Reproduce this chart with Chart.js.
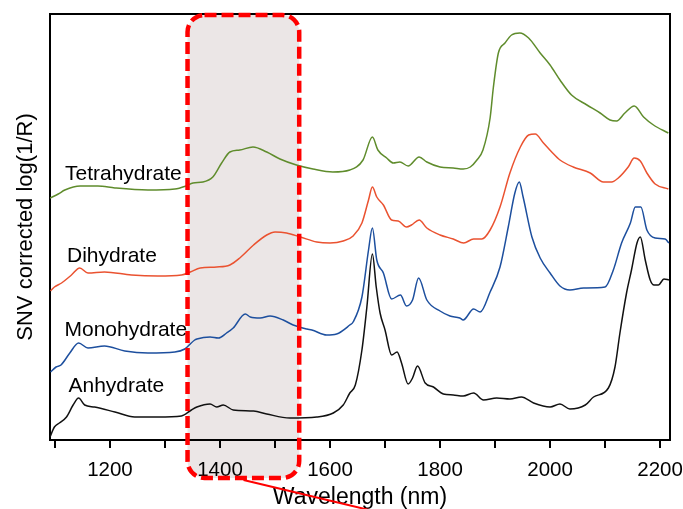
<!DOCTYPE html>
<html>
<head>
<meta charset="utf-8">
<script src="https://cdn.jsdelivr.net/npm/chart.js@4/dist/chart.umd.min.js"></script>
<style>
  html, body { margin: 0; padding: 0; background: #ffffff; }
  #wrap { width: 683px; height: 509px; }
</style>
</head>
<body>
<div id="wrap"><canvas id="c" width="683" height="509"></canvas></div>
<script>
// NIR spectra of four hydration states (SNV corrected, stacked with offsets)
const tetraNm = [1091,1106,1118,1146,1178,1209,1269,1318,1338,1351,1369,1387,1403,1418,1436,1460,1485,1509,1539,1569,1605,1636,1660,1677,1687,1703,1715,1727,1742,1762,1776,1800,1824,1842,1855,1867,1878,1891,1897,1906,1918,1930,1945,1961,1982,2000,2018,2039,2067,2091,2109,2121,2136,2153,2170,2188,2215];
const tetraVal = [242,246,250,254,254,252,250,251,254,257,258,263,277,288,290,293,288,281,275,271,268,270,280,303,290,282,277,278,274,283,278,273,272,271,273,280,290,322,353,387,397,405,407,402,387,375,360,345,335,327,320,319,327,334,323,315,307];

const diNm = [1092,1099,1112,1130,1145,1160,1190,1239,1287,1330,1346,1364,1394,1418,1436,1461,1485,1500,1521,1546,1576,1600,1624,1642,1658,1670,1677,1685,1697,1712,1724,1739,1748,1762,1776,1800,1824,1843,1861,1876,1891,1909,1927,1946,1961,1973,1988,2003,2018,2042,2073,2097,2112,2124,2142,2153,2164,2176,2191,2215];
const diVal = [149,153,157,165,172,167,168,165,164,165,168,172,173,175,182,195,205,208,207,203,198,197,199,204,217,240,253,243,235,220,219,213,215,220,212,205,201,197,201,201,210,233,267,293,305,306,297,288,280,273,267,258,258,262,273,282,279,267,256,251];

const monoNm = [1092,1102,1111,1127,1143,1160,1190,1227,1269,1318,1336,1354,1358,1382,1397,1412,1424,1446,1455,1473,1491,1515,1533,1558,1567,1594,1612,1636,1642,1658,1670,1677,1685,1697,1712,1728,1739,1750,1761,1776,1800,1818,1836,1842,1861,1873,1891,1909,1924,1936,1944,1951,1967,1982,2000,2018,2036,2061,2100,2115,2130,2146,2155,2165,2176,2191,2209,2216];
const monoVal = [68,73,75,87,97,92,94,89,87,88,91,100,101,103,102,107,112,126,123,122,124,120,115,111,110,105,106,115,118,143,190,212,180,167,141,145,134,140,162,140,129,124,122,120,131,128,148,173,213,247,258,243,203,182,167,154,150,152,153,170,197,217,233,233,210,202,201,197];

const anhNm = [1091,1099,1108,1121,1133,1143,1154,1172,1209,1245,1287,1330,1348,1358,1382,1394,1406,1424,1461,1485,1527,1576,1606,1624,1636,1646,1658,1667,1677,1684,1691,1700,1712,1722,1730,1742,1750,1759,1773,1788,1806,1824,1842,1861,1879,1903,1927,1948,1970,2000,2018,2036,2064,2079,2106,2118,2127,2139,2148,2158,2164,2173,2182,2189,2197,2207,2216];
const anhVal = [3,13,17,23,35,42,35,33,28,23,23,24,30,33,36,33,35,30,29,26,22,23,27,35,47,55,90,133,186,153,127,110,85,88,77,56,62,74,57,53,46,45,44,47,40,42,41,43,37,33,36,31,35,43,52,73,107,147,170,197,203,180,160,155,155,161,160];

const seriesNames = ['Tetrahydrate', 'Dihydrate', 'Monohydrate', 'Anhydrate'];
const xTickValues = [1100,1200,1300,1400,1500,1600,1700,1800,1900,2000,2100,2200];
const highlightNm = [1341, 1544];   // water overtone band marked on the plot

const zip = (xs, ys) => xs.map((x, i) => ({ x: x, y: ys[i] }));

Chart.defaults.font.family = '"Liberation Sans", Arial, Helvetica, sans-serif';
Chart.defaults.color = '#000';

// label anchors for each trace (plot pixels: left edge, baseline)
const labelLayout = [
  { x: 65, y: 179.5 },
  { x: 67, y: 261.5 },
  { x: 64.5, y: 336 },
  { x: 68.5, y: 392 }
];

const overlay = {
  id: 'overlay',
  bandBox(chart) {
    const xs = chart.scales.x;
    const ca = chart.chartArea;
    const l = xs.getPixelForValue(highlightNm[0]);
    const r = xs.getPixelForValue(highlightNm[1]);
    return { l: l, r: r, t: ca.top + 1, b: ca.bottom + 38 };
  },
  beforeDraw(chart) {
    const ctx = chart.ctx;
    const b = this.bandBox(chart);
    ctx.save();
    ctx.fillStyle = '#ebe6e6';
    ctx.beginPath();
    ctx.roundRect(b.l, b.t, b.r - b.l, b.b - b.t, 17);
    ctx.fill();
    ctx.restore();
  },
  beforeDatasetsDraw(chart) {
    const ctx = chart.ctx;
    const ca = chart.chartArea;
    ctx.save();
    ctx.strokeStyle = '#000';
    ctx.lineWidth = 2;
    ctx.beginPath();
    ctx.moveTo(ca.left, ca.top);
    ctx.lineTo(ca.right, ca.top);
    ctx.lineTo(ca.right, ca.bottom);
    ctx.stroke();
    ctx.restore();
  },
  afterDatasetsDraw(chart) {
    const ctx = chart.ctx;
    ctx.save();
    ctx.fillStyle = '#000';
    ctx.font = '21px "Liberation Sans", Arial, sans-serif';
    ctx.textAlign = 'left';
    ctx.textBaseline = 'alphabetic';
    seriesNames.forEach((name, i) => {
      ctx.fillText(name, labelLayout[i].x, labelLayout[i].y);
    });
    ctx.restore();
  },
  afterDraw(chart) {
    const ctx = chart.ctx;
    const b = this.bandBox(chart);
    ctx.save();
    ctx.strokeStyle = '#ff0000';
    ctx.lineWidth = 4.5;
    ctx.setLineDash([12, 5]);
    ctx.beginPath();
    ctx.roundRect(b.l, b.t, b.r - b.l, b.b - b.t, 17);
    ctx.stroke();
    // pointer leading off the bottom edge
    ctx.setLineDash([]);
    ctx.lineWidth = 2;
    ctx.beginPath();
    ctx.moveTo(b.l + 56, b.b + 2);
    ctx.lineTo(b.l + 190, b.b + 34);
    ctx.stroke();
    ctx.restore();
  }
};

new Chart(document.getElementById('c'), {
  type: 'line',
  data: {
    datasets: [
      { label: seriesNames[0], data: zip(tetraNm, tetraVal), borderColor: '#5f8c2c' },
      { label: seriesNames[1], data: zip(diNm, diVal), borderColor: '#ea5230' },
      { label: seriesNames[2], data: zip(monoNm, monoVal), borderColor: '#1d4f9e' },
      { label: seriesNames[3], data: zip(anhNm, anhVal), borderColor: '#111111' }
    ]
  },
  options: {
    responsive: false,
    animation: false,
    layout: { padding: { top: 14, right: 13, left: 0, bottom: 0 } },
    plugins: { legend: { display: false }, tooltip: { enabled: false } },
    elements: {
      point: { radius: 0 },
      line: { borderWidth: 1.5, cubicInterpolationMode: 'monotone', fill: false }
    },
    scales: {
      x: {
        type: 'linear',
        min: 1091,
        max: 2218,
        afterBuildTicks: s => { s.ticks = xTickValues.map(v => ({ value: v })); },
        afterFit: s => { s.height = 69; s.paddingLeft = 0; s.paddingRight = 0; },
        grid: { display: true, drawOnChartArea: false, drawTicks: true, tickLength: 8, color: '#000', lineWidth: 2 },
        border: { display: true, color: '#000', width: 2 },
        ticks: {
          color: '#000',
          font: { size: 20.5 },
          padding: 10,
          maxRotation: 0,
          autoSkip: false,
          callback: v => (v % 200 === 0 ? String(v) : '')
        },
        title: { display: true, text: 'Wavelength (nm)', color: '#000', font: { size: 23, lineHeight: 1 }, padding: 0 }
      },
      y: {
        min: 0,
        max: 426,
        afterFit: s => { s.width = 50; s.paddingTop = 0; s.paddingBottom = 0; },
        grid: { display: false },
        ticks: { display: false },
        border: { display: true, color: '#000', width: 2 },
        title: { display: true, text: 'SNV corrected log(1/R)', color: '#000', font: { size: 22, lineHeight: 1 }, padding: { top: 15, bottom: 0 } }
      }
    }
  },
  plugins: [overlay]
});
</script>
</body>
</html>
